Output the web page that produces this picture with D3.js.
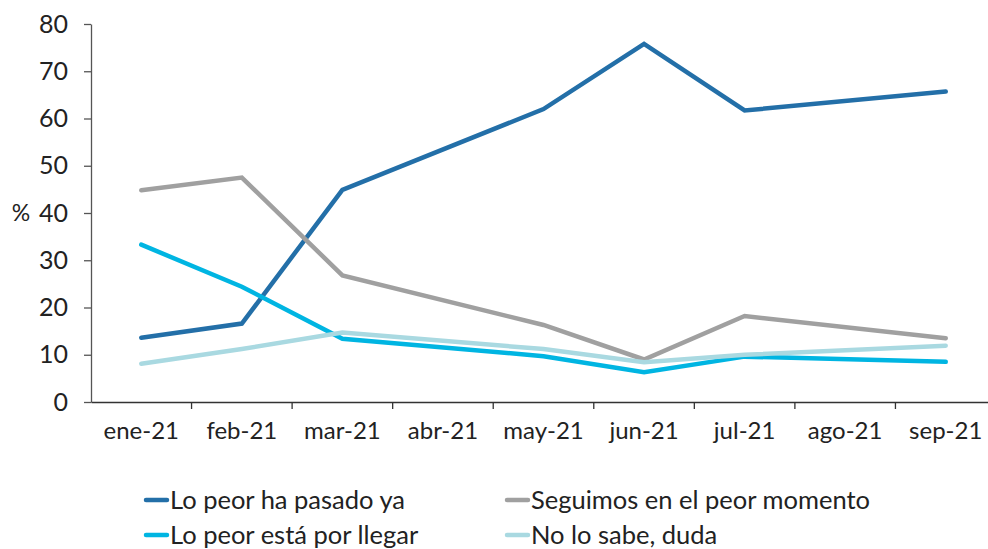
<!DOCTYPE html>
<html><head><meta charset="utf-8">
<script src="https://cdn.jsdelivr.net/npm/d3@7"></script>
<style>
html,body{margin:0;padding:0;background:#fff;}
svg{display:block;font-family:Lato,"Open Sans",sans-serif;}
</style></head>
<body><svg id="c" width="988" height="549"></svg>
<script>
const categories = ["ene-21","feb-21","mar-21","abr-21","may-21","jun-21","jul-21","ago-21","sep-21"];
const pasadoYa   = [13.6, 16.6, 44.9, null, 62.0, 75.8, 61.7, null, 65.7];
const seguimos   = [44.8, 47.5, 26.8, null, 16.3,  9.0, 18.2, null, 13.5];
const porLlegar  = [33.3, 24.4, 13.4, null,  9.7,  6.3,  9.6, null,  8.5];
const noSabe     = [ 8.1, 11.2, 14.7, null, 11.2,  8.4, 10.0, null, 11.9];
const yTicks = [0,10,20,30,40,50,60,70,80];
const seriesNames = ["Lo peor ha pasado ya","Seguimos en el peor momento","Lo peor está por llegar","No lo sabe, duda"];
const seriesColors = ["#236fa8","#a0a0a0","#00b5e2","#a9d9e1"];
const seriesValues = [pasadoYa, seguimos, porLlegar, noSabe];

const svg = d3.select("#c");
const mLeft = 91, mRight = 996, mTop = 24, mBottom = 402;
const x = d3.scaleBand().domain(categories).range([mLeft, mRight]).padding(0);
const y = d3.scaleLinear().domain([0,80]).range([mBottom, mTop]);

// y axis
const yAxis = svg.append("g").attr("transform",`translate(${mLeft},0)`)
  .call(d3.axisLeft(y).tickValues(yTicks).tickSize(7).tickPadding(16).tickSizeOuter(0));
yAxis.select(".domain").attr("stroke","#555").attr("stroke-width",1.3);
yAxis.selectAll(".tick line").attr("stroke","#555").attr("stroke-width",1.3);
yAxis.selectAll("text").attr("font-size",25).attr("fill","#222").attr("font-family","Lato,sans-serif");

// x axis
const xAxis = svg.append("g").attr("transform",`translate(0,${mBottom})`)
  .call(d3.axisBottom(x).tickSize(0).tickPadding(20).tickSizeOuter(0));
xAxis.select(".domain").attr("stroke","#333").attr("stroke-width",1.3);
xAxis.selectAll("text").attr("font-size",24).attr("fill","#222").attr("font-family","Lato,sans-serif");
xAxis.selectAll(".bound").data(categories.slice(1)).enter().append("line")
  .attr("x1",d=>x(d)).attr("x2",d=>x(d)).attr("y1",0).attr("y2",7)
  .attr("stroke","#333").attr("stroke-width",1.3);

svg.append("text").attr("x",21).attr("y",213).attr("dy","0.35em").attr("text-anchor","middle")
  .attr("font-size",23).attr("fill","#222").text("%");

const line = d3.line().x(d=>x(d.c)+x.bandwidth()/2).y(d=>y(d.v));
seriesValues.forEach((vals,i)=>{
  const pts = categories.map((c,j)=>({c, v: vals[j]})).filter(d=>d.v!==null);
  svg.append("path").datum(pts).attr("d",line).attr("fill","none")
    .attr("stroke",seriesColors[i]).attr("stroke-width",4.5)
    .attr("stroke-linejoin","miter").attr("stroke-linecap","round");
});

// legend
const legPos = [[146,500],[507,500],[146,535],[507,535]];
seriesNames.forEach((n,i)=>{
  const [lx,ly] = legPos[i];
  const g = svg.append("g").attr("transform",`translate(${lx},${ly})`);
  g.append("line").attr("x1",0).attr("x2",21).attr("y1",0).attr("y2",0)
    .attr("stroke",seriesColors[i]).attr("stroke-width",4.5).attr("stroke-linecap","round");
  g.append("text").attr("x",24).attr("y",0).attr("dy","0.35em")
    .attr("font-size",25.5).attr("fill","#222").text(n);
});
</script></body></html>
